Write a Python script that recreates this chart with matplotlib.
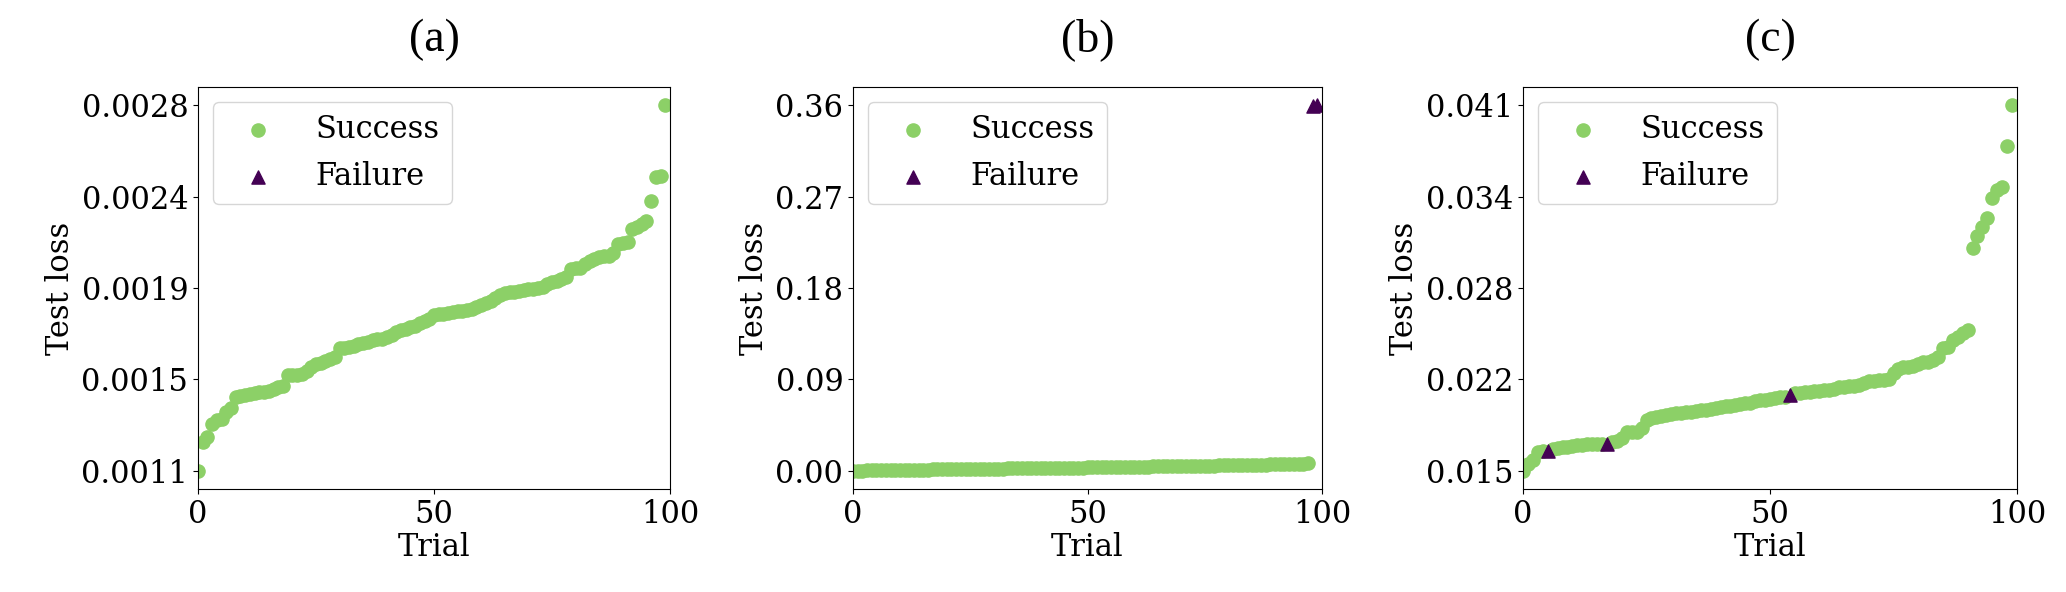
import matplotlib.pyplot as plt
import numpy as np

plt.rcParams['font.family'] = 'DejaVu Serif'
plt.rcParams['font.size'] = 22

green = '#8cd067'
purple = '#440154'

# (a) all 100 trials succeed, sorted test loss
a_success = [0.001100, 0.001232, 0.001255, 0.001317, 0.001334, 0.001340, 0.001371, 0.001391, 0.001441, 0.001448,
             0.001453, 0.001458, 0.001461, 0.001464, 0.001467, 0.001473, 0.001479, 0.001489, 0.001495, 0.001546,
             0.001547, 0.001547, 0.001550, 0.001566, 0.001582, 0.001597, 0.001603, 0.001611, 0.001619, 0.001631,
             0.001670, 0.001673, 0.001674, 0.001678, 0.001688, 0.001696, 0.001701, 0.001708, 0.001711, 0.001715,
             0.001721, 0.001732, 0.001747, 0.001755, 0.001760, 0.001767, 0.001773, 0.001786, 0.001798, 0.001804,
             0.001823, 0.001828, 0.001829, 0.001832, 0.001837, 0.001842, 0.001845, 0.001848, 0.001851, 0.001860,
             0.001869, 0.001879, 0.001891, 0.001904, 0.001916, 0.001928, 0.001931, 0.001933, 0.001938, 0.001941,
             0.001944, 0.001945, 0.001948, 0.001956, 0.001969, 0.001978, 0.001984, 0.001992, 0.002003, 0.002040,
             0.002043, 0.002044, 0.002062, 0.002075, 0.002086, 0.002096, 0.002099, 0.002100, 0.002114, 0.002154,
             0.002161, 0.002165, 0.002223, 0.002235, 0.002247, 0.002263, 0.002356, 0.002467, 0.002470, 0.002800]
a_fail_trials = []
a_fail = []
a_ticklabels = ['0.0011', '0.0015', '0.0019', '0.0024', '0.0028']

# (b) two failed trials at the end
b_success = [0.0002, 0.0003, 0.0004, 0.0005, 0.0006, 0.0006, 0.0007, 0.0008, 0.0009, 0.0010,
             0.0011, 0.0012, 0.0012, 0.0013, 0.0013, 0.0014, 0.0014, 0.0015, 0.0015, 0.0016,
             0.0016, 0.0017, 0.0017, 0.0018, 0.0018, 0.0019, 0.0020,
             0.0021, 0.0021, 0.0022, 0.0022, 0.0023, 0.0023, 0.0024, 0.0024, 0.0025, 0.0025,
             0.0026, 0.0026, 0.0027, 0.0028,
             0.0029, 0.0030, 0.0030, 0.0031, 0.0031, 0.0032, 0.0032, 0.0033, 0.0033, 0.0034,
             0.0035, 0.0035, 0.0036,
             0.0037, 0.0038, 0.0038, 0.0039, 0.0039, 0.0040, 0.0041, 0.0041, 0.0042, 0.0043,
             0.0044, 0.0045, 0.0045, 0.0046, 0.0047, 0.0047, 0.0048, 0.0049, 0.0049, 0.0050, 0.0051,
             0.0052, 0.0053, 0.0053, 0.0054, 0.0055, 0.0055, 0.0056, 0.0057, 0.0057, 0.0058,
             0.0059, 0.0060, 0.0061, 0.0062,
             0.0064, 0.0065, 0.0066, 0.0067, 0.0068, 0.0069, 0.0071, 0.0073, 0.0079]
b_fail_trials = [98, 99]
b_fail = [0.3590, 0.3600]
b_ticklabels = ['0.00', '0.09', '0.18', '0.27', '0.36']

# (c) three failed trials mixed in
c_success = [0.01500, 0.01550, 0.01578, 0.01630, 0.01642, 0.01654, 0.01661, 0.01666, 0.01670,
             0.01675, 0.01680, 0.01685, 0.01687, 0.01689, 0.01690, 0.01692, 0.01701, 0.01713,
             0.01732, 0.01772, 0.01777, 0.01779, 0.01803, 0.01862, 0.01874, 0.01881, 0.01886, 0.01895,
             0.01903, 0.01910, 0.01914, 0.01919, 0.01921, 0.01924, 0.01929, 0.01933, 0.01938, 0.01945,
             0.01952, 0.01957, 0.01962, 0.01969, 0.01976, 0.01981, 0.01985, 0.01993, 0.02000, 0.02004,
             0.02009, 0.02016, 0.02023, 0.02028, 0.02052, 0.02056, 0.02059, 0.02061, 0.02064,
             0.02066, 0.02071, 0.02075, 0.02083, 0.02094, 0.02099, 0.02104, 0.02106, 0.02111, 0.02123,
             0.02135, 0.02139, 0.02142, 0.02146, 0.02154, 0.02194, 0.02222, 0.02236, 0.02241, 0.02246,
             0.02260, 0.02270, 0.02277, 0.02289, 0.02312, 0.02371, 0.02383, 0.02431, 0.02454, 0.02478,
             0.02502, 0.03082, 0.03169, 0.03236, 0.03297, 0.03437, 0.03496, 0.03520, 0.03811, 0.04100]
c_fail_trials = [5, 17, 54]
c_fail = [0.01643, 0.01693, 0.02040]
c_ticklabels = ['0.015', '0.022', '0.028', '0.034', '0.041']

panels = [('(a)', a_success, a_fail_trials, a_fail, a_ticklabels),
          ('(b)', b_success, b_fail_trials, b_fail, b_ticklabels),
          ('(c)', c_success, c_fail_trials, c_fail, c_ticklabels)]

W, H = 2066, 592
boxes = [(198, 472), (853, 469), (1523, 494)]  # left, width in pixels
top, bottom = 87, 489

fig = plt.figure(figsize=(W / 100, H / 100), dpi=100)
for (title, succ, ftr, fl, labels), (left, width) in zip(panels, boxes):
    ax = fig.add_axes([left / W, (H - bottom) / H, width / W, (bottom - top) / H])
    n = len(succ) + len(fl)
    strials = [i for i in range(n) if i not in ftr]
    ax.scatter(strials, succ, s=90, color=green, marker='o', label='Success')
    ax.scatter(ftr, fl, s=90, color=purple, marker='^', label='Failure')
    ax.set_xlim(0, 100)
    ax.set_xticks([0, 50, 100])
    allv = np.concatenate([succ, fl])
    ax.set_yticks(np.linspace(allv.min(), allv.max(), 5))
    ax.set_yticklabels(labels)
    ax.set_xlabel('Trial', labelpad=2)
    ax.set_ylabel('Test loss')
    ax.set_title(title, pad=26, fontsize=33, family='Liberation Serif')
    ax.legend(loc='upper left', handlelength=2.1, handletextpad=0.85)

plt.savefig('out.png', dpi=100)
